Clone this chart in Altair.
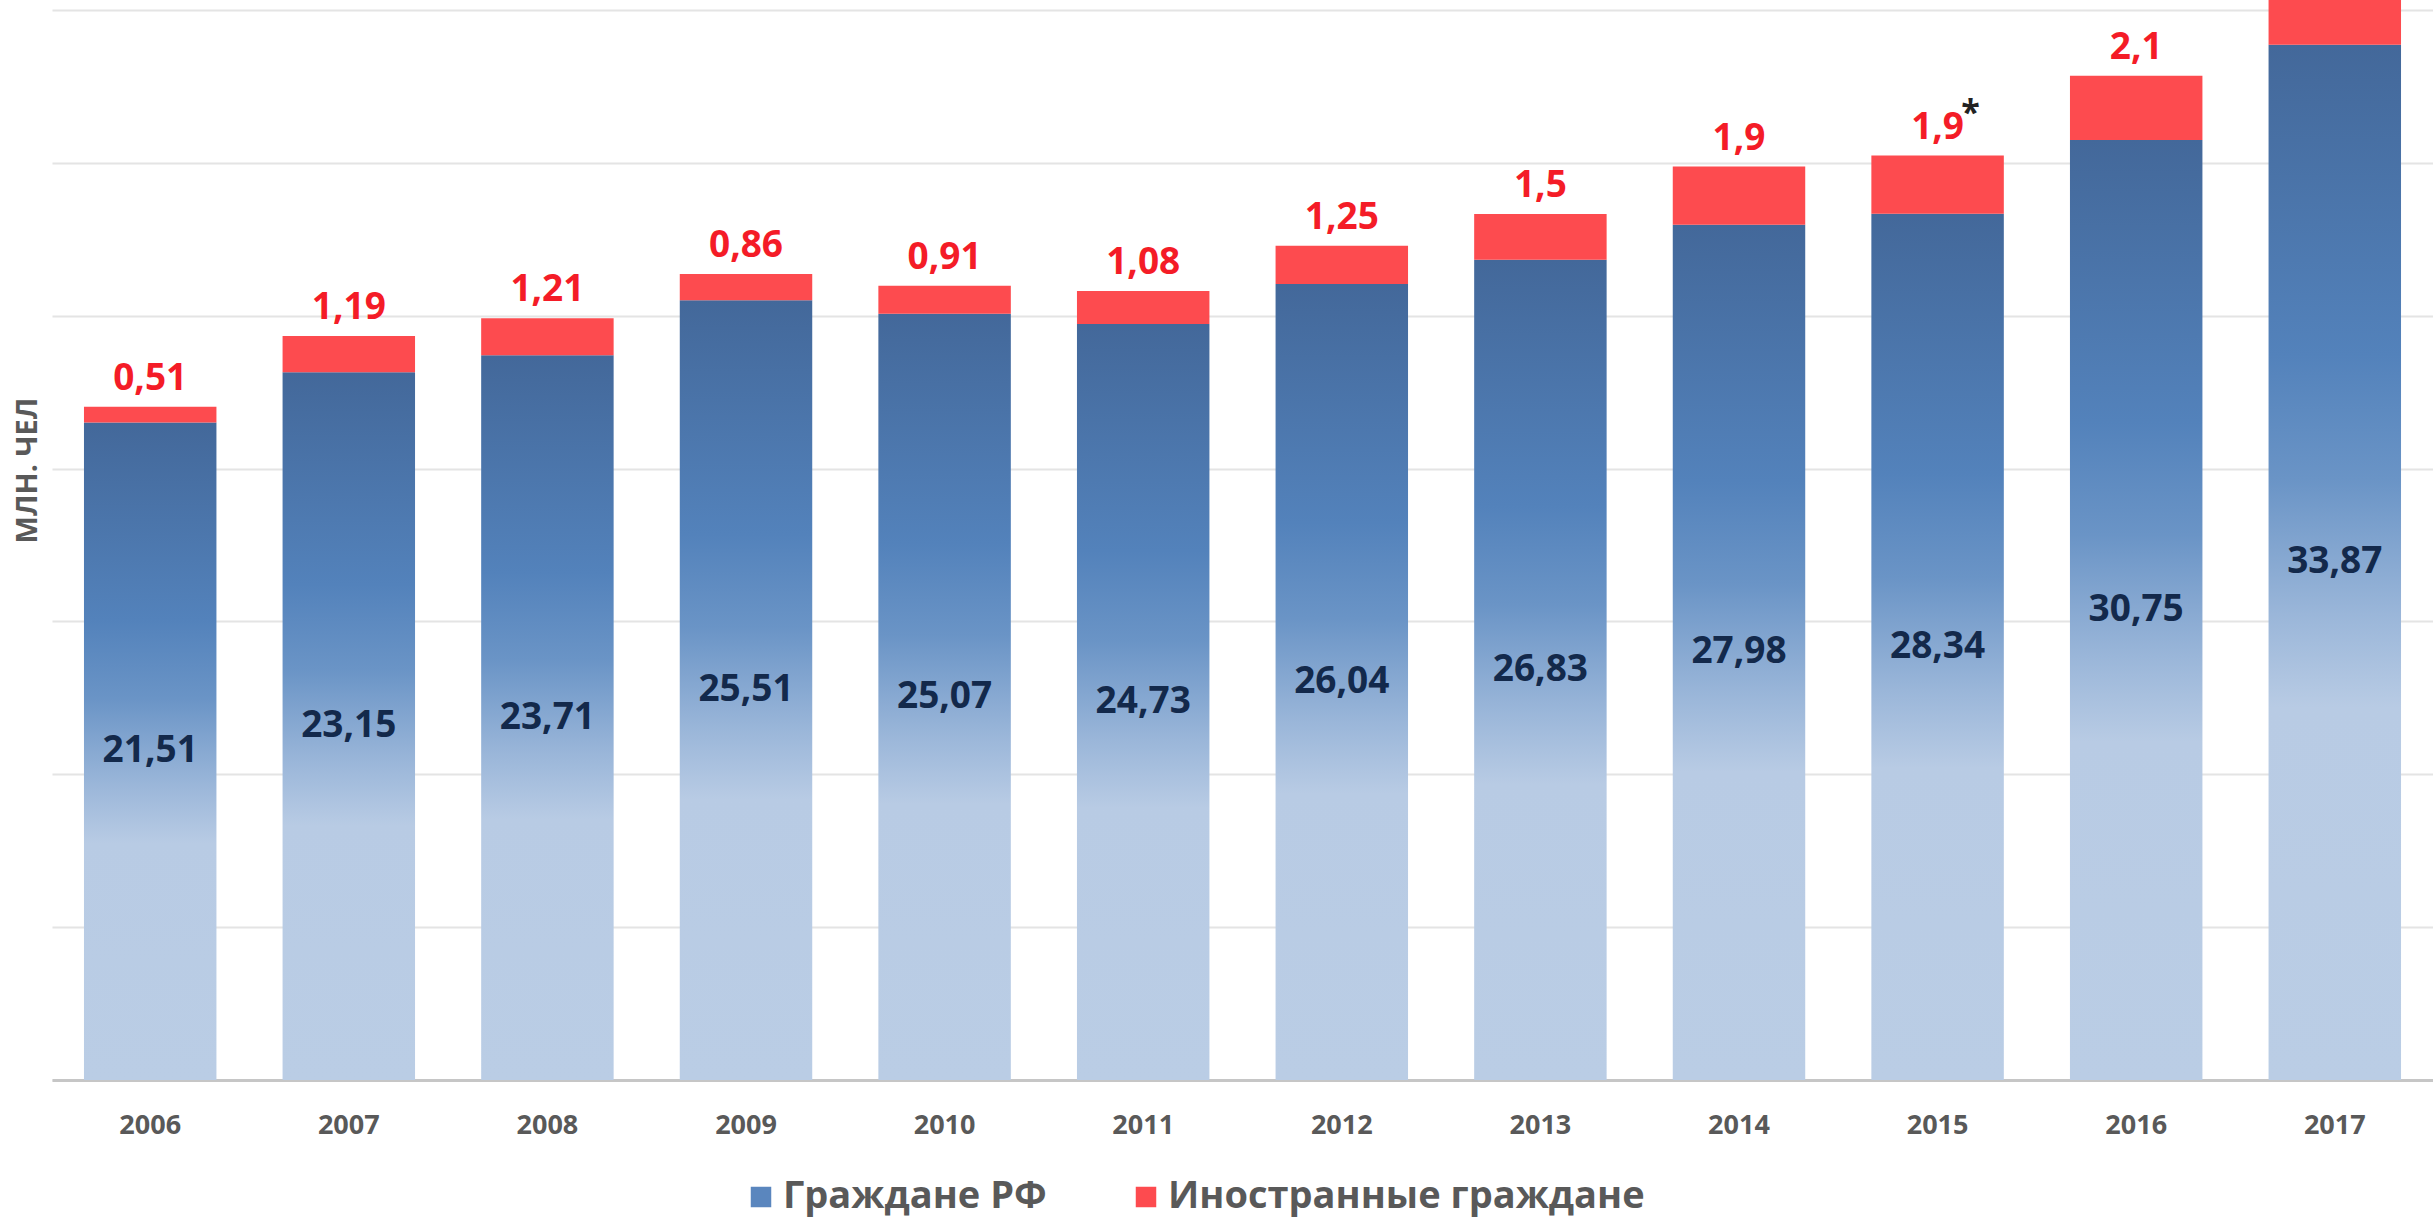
import altair as alt
import pandas as pd

years = ["2006", "2007", "2008", "2009", "2010", "2011", "2012", "2013", "2014", "2015", "2016", "2017"]
citizens = [21.51, 23.15, 23.71, 25.51, 25.07, 24.73, 26.04, 26.83, 27.98, 28.34, 30.75, 33.87]
# 2017 foreign value is cut off in the reference; estimated
foreigners = [0.51, 1.19, 1.21, 0.86, 0.91, 1.08, 1.25, 1.5, 1.9, 1.9, 2.1, 2.4]
notes = ["", "", "", "", "", "", "", "", "", "*", "", ""]
series = ["Граждане РФ", "Иностранные граждане"]
grid_values = [0, 5, 10, 15, 20, 25, 30, 35]
y_max = 35.33

FONT = "Open Sans"
GRAY = "#595959"
RED = "#fd4b4f"
RED_TXT = "#f41c27"
NAVY = "#13294b"

df = pd.DataFrame({"year": years, "citizens": citizens, "foreign": foreigners, "note": notes})

blue_grad = alt.Gradient(
    gradient="linear", x1=0, y1=0, x2=0, y2=1,
    stops=[
        alt.GradientStop(offset=0.0, color="#43689a"),
        alt.GradientStop(offset=0.30, color="#5382bb"),
        alt.GradientStop(offset=0.42, color="#6a94c6"),
        alt.GradientStop(offset=0.55, color="#9ab6d9"),
        alt.GradientStop(offset=0.64, color="#b8cbe4"),
        alt.GradientStop(offset=1.0, color="#bacde5"),
    ],
)

base = alt.Chart(df).transform_calculate(
    total="datum.citizens + datum.foreign",
    mid="datum.citizens / 2",
    cit_label="replace(toString(datum.citizens), '.', ',')",
    for_label="replace(toString(datum.foreign), '.', ',')",
    series_f="'Иностранные граждане'",
)

x = alt.X(
    "year:N", sort=years,
    scale=alt.Scale(paddingInner=0.333, paddingOuter=0.161),
    axis=alt.Axis(title=None, labelAngle=0, ticks=False, labelFont=FONT, labelFontSize=27,
                  labelFontWeight="bold", labelColor=GRAY, labelPadding=32,
                  domainColor="#c6c6c6", domainWidth=3, grid=False),
)
yscale = alt.Scale(domain=[0, y_max], nice=False, zero=True)
yaxis = alt.Axis(title="МЛН. ЧЕЛ", values=grid_values, labels=False, ticks=False, domain=False,
                 grid=True, gridColor="#e4e4e4", gridWidth=2,
                 titleFont=FONT, titleFontSize=29, titleFontWeight="bold", titleColor=GRAY,
                 titleAngle=270, titleX=-25, titleY=470, titleAlign="center", titleBaseline="middle")

blue = base.mark_bar(color=blue_grad).encode(
    x=x, y=alt.Y("citizens:Q", scale=yscale, axis=yaxis)
)

red = base.mark_bar(clip=True).encode(
    x=x,
    y=alt.Y("total:Q", scale=yscale),
    y2="citizens:Q",
    color=alt.Color(
        "series_f:N",
        scale=alt.Scale(domain=series, range=["#5a86be", RED]),
        legend=alt.Legend(title=None, orient="none", legendX=690, legendY=1178,
                          direction="horizontal", symbolType="square", symbolSize=420,
                          symbolStrokeWidth=0, symbolOpacity=1, labelFont=FONT, labelFontSize=38,
                          labelFontWeight="bold", labelColor=GRAY, columnPadding=80,
                          labelOffset=3, padding=0, labelLimit=1000),
    ),
)

blue_txt = base.mark_text(font=FONT, fontSize=37, fontWeight="bold", color=NAVY,
                          baseline="middle").encode(
    x=x, y=alt.Y("mid:Q", scale=yscale), text="cit_label:N"
)

red_txt = base.mark_text(font=FONT, fontSize=37, fontWeight="bold", color=RED_TXT,
                         baseline="alphabetic", dy=-17, clip=True).encode(
    x=x, y=alt.Y("total:Q", scale=yscale), text="for_label:N"
)

note_txt = base.mark_text(font=FONT, fontSize=34, fontWeight="bold", color="#222222",
                          baseline="alphabetic", dx=33, dy=-32, clip=True).encode(
    x=x, y=alt.Y("total:Q", scale=yscale), text="note:N"
)

chart = alt.layer(blue, red, blue_txt, red_txt, note_txt).properties(
    width=2381, height=1080,
    autosize=alt.AutoSizeParams(type="none"),
    padding={"left": 52, "top": 0, "right": 0, "bottom": 138},
    background="white",
).configure_view(stroke=None)

chart.save("out.html", embed_options={"renderer": "svg", "actions": False})
